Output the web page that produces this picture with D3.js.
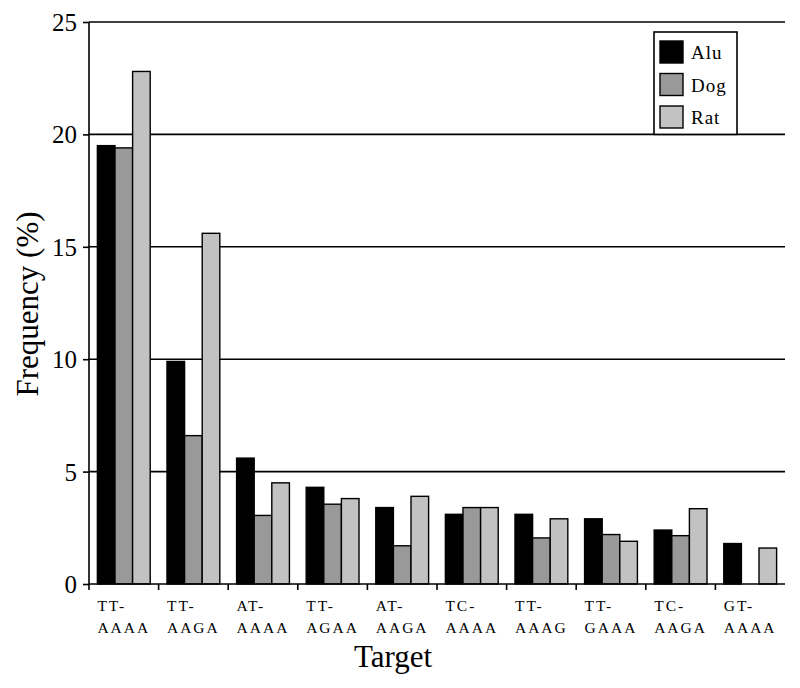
<!DOCTYPE html>
<html>
<head>
<meta charset="utf-8">
<script src="https://cdn.jsdelivr.net/npm/d3@7"></script>
<style>
  body { margin: 0; background: #fff; }
  text { font-family: "Liberation Serif", "Times New Roman", serif; fill: #000; }
</style>
</head>
<body>
<div id="chart"></div>
<script>
(function () {
    // data
    const targets = ["TT-AAAA", "TT-AAGA", "AT-AAAA", "TT-AGAA", "AT-AAGA",
                     "TC-AAAA", "TT-AAAG", "TT-GAAA", "TC-AAGA", "GT-AAAA"];
    const seriesNames = ["Alu", "Dog", "Rat"];
    const alu = [19.5, 9.9, 5.6, 4.3, 3.4, 3.1, 3.1, 2.9, 2.4, 1.8];
    const dog = [19.4, 6.6, 3.05, 3.55, 1.7, 3.4, 2.05, 2.2, 2.15, 0];
    const rat = [22.8, 15.6, 4.5, 3.8, 3.9, 3.4, 2.9, 1.9, 3.35, 1.6];
    const yTicks = [0, 5, 10, 15, 20, 25];

    const width = 800, height = 688;
    const margin = { top: 22, right: 15, bottom: 104, left: 89 };
    const colors = { Alu: "#000000", Dog: "#999999", Rat: "#c2c2c2" };

    const rows = targets.map((t, i) => ({ target: t, Alu: alu[i], Dog: dog[i], Rat: rat[i] }));

    const svg = d3.select("#chart").append("svg")
        .attr("width", width).attr("height", height);

    const x = d3.scaleBand()
        .domain(targets)
        .range([margin.left, width - margin.right]);

    const y = d3.scaleLinear()
        .domain([0, 25])
        .range([height - margin.bottom, margin.top]);

    const bw = x.bandwidth() * 0.253;
    const xs = d3.scaleBand()
        .domain(seriesNames)
        .range([(x.bandwidth() - bw * 3) / 2, (x.bandwidth() + bw * 3) / 2]);

    // gridlines
    svg.append("g")
        .selectAll("line")
        .data(yTicks.filter(d => d > 0))
        .join("line")
        .attr("x1", margin.left).attr("x2", width - margin.right)
        .attr("y1", d => y(d)).attr("y2", d => y(d))
        .attr("stroke", "#000").attr("stroke-width", 1.6);

    // bars
    svg.append("g")
        .selectAll("g")
        .data(rows)
        .join("g")
        .attr("transform", d => `translate(${x(d.target)},0)`)
        .selectAll("rect")
        .data(d => seriesNames.map(k => ({ key: k, value: d[k] })).filter(e => e.value > 0))
        .join("rect")
        .attr("x", d => xs(d.key))
        .attr("width", xs.bandwidth())
        .attr("y", d => y(d.value))
        .attr("height", d => y(0) - y(d.value))
        .attr("fill", d => colors[d.key])
        .attr("stroke", "#000")
        .attr("stroke-width", 1.4);

    // y axis
    const yAxis = svg.append("g")
        .attr("transform", `translate(${margin.left},0)`)
        .call(d3.axisLeft(y).tickValues(yTicks).tickSize(6).tickPadding(6));
    yAxis.select(".domain").remove();
    yAxis.selectAll(".tick line").attr("stroke-width", 1.6);
    yAxis.selectAll(".tick text")
        .style("font-family", "'Liberation Serif', serif")
        .style("font-size", "25px")
        .attr("dy", "0.34em");
    svg.append("line")
        .attr("x1", margin.left).attr("x2", margin.left)
        .attr("y1", margin.top).attr("y2", y(0) + 6)
        .attr("stroke", "#000").attr("stroke-width", 1.6);

    // x axis
    svg.append("line")
        .attr("x1", margin.left).attr("x2", width - margin.right)
        .attr("y1", y(0)).attr("y2", y(0))
        .attr("stroke", "#000").attr("stroke-width", 1.6);
    svg.append("g")
        .selectAll("line")
        .data(targets.slice(1))
        .join("line")
        .attr("x1", d => x(d)).attr("x2", d => x(d))
        .attr("y1", y(0)).attr("y2", y(0) + 6)
        .attr("stroke", "#000").attr("stroke-width", 1.6);

    const labels = svg.append("g")
        .selectAll("text")
        .data(targets)
        .join("text")
        .attr("x", d => x(d) + xs(seriesNames[0]))
        .attr("y", y(0) + 27)
        .style("font-size", "15.5px")
        .style("letter-spacing", "2px");
    labels.append("tspan").text(d => d.split("-")[0] + "-");
    labels.append("tspan")
        .attr("x", d => x(d) + xs(seriesNames[0]))
        .attr("dy", 22)
        .text(d => d.split("-")[1]);

    // axis titles
    svg.append("text")
        .attr("x", 393).attr("y", 667)
        .attr("text-anchor", "middle")
        .style("font-size", "31px")
        .text("Target");
    svg.append("text")
        .attr("transform", "translate(38,304) rotate(-90)")
        .attr("text-anchor", "middle")
        .style("font-size", "31px")
        .text("Frequency (%)");

    // legend
    const legend = svg.append("g");
    legend.append("rect")
        .attr("x", 654).attr("y", 32)
        .attr("width", 83).attr("height", y(20) - 32)
        .attr("fill", "#fff").attr("stroke", "#000").attr("stroke-width", 1.6);
    const li = legend.selectAll("g")
        .data(seriesNames)
        .join("g")
        .attr("transform", (d, i) => `translate(660,${41 + i * 32.5})`);
    li.append("rect")
        .attr("width", 23).attr("height", 22)
        .attr("fill", d => colors[d])
        .attr("stroke", "#000").attr("stroke-width", 1.4);
    li.append("text")
        .attr("x", 31).attr("y", 18)
        .style("font-size", "19px")
        .style("letter-spacing", "1px")
        .text(d => d);
})();
</script>
</body>
</html>
